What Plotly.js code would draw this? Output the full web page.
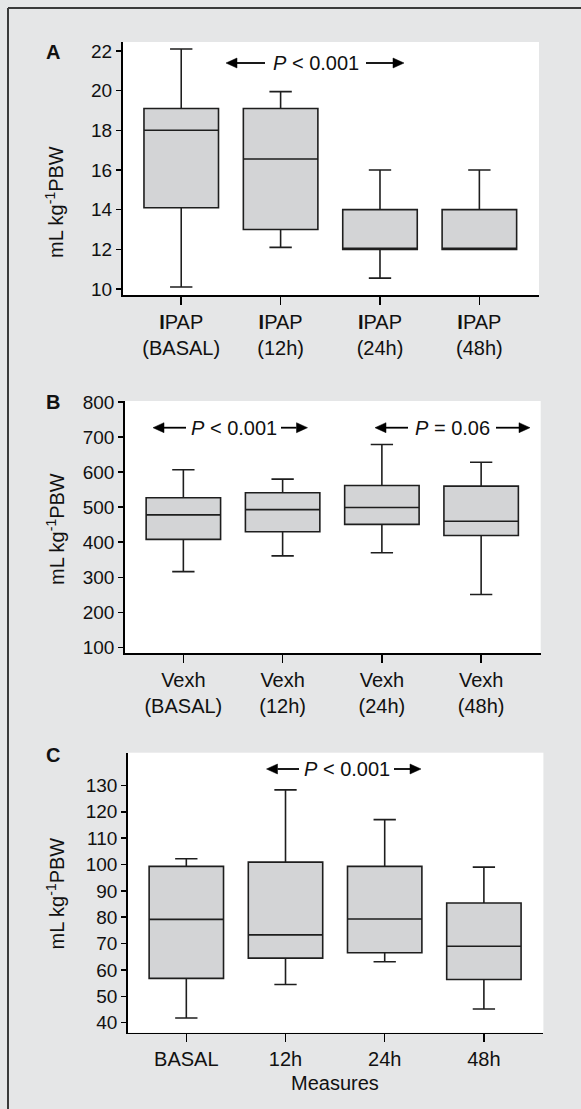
<!DOCTYPE html>
<html>
<head>
<meta charset="utf-8">
<script src="https://cdn.plot.ly/plotly-3.0.1.min.js"></script>
<style>
  html, body { margin: 0; padding: 0; background: #e5e6e7; }
  #chart { width: 581px; height: 1109px; }
</style>
</head>
<body>
<div id="chart"></div>
<script>
// ---------- data ----------
const categories = ['BASAL', '12h', '24h', '48h'];

// Panel A: IPAP (mL kg-1 PBW)
const ipapLabels = ['<b>I</b>PAP<br>(BASAL)', '<b>I</b>PAP<br>(12h)', '<b>I</b>PAP<br>(24h)', '<b>I</b>PAP<br>(48h)'];
const ipapLower  = [10.1, 12.1, 10.55, 12];
const ipapQ1     = [14.1, 13.0, 12, 12];
const ipapMedian = [18.0, 16.55, 12, 12];
const ipapQ3     = [19.1, 19.1, 14, 14];
const ipapUpper  = [22.1, 19.95, 16, 16];
const ipapTicks  = [10, 12, 14, 16, 18, 20, 22];

// Panel B: Vexh
const vexhLabels = ['Vexh<br>(BASAL)', 'Vexh<br>(12h)', 'Vexh<br>(24h)', 'Vexh<br>(48h)'];
const vexhLower  = [316, 361, 370, 251];
const vexhQ1     = [408, 430, 451, 419];
const vexhMedian = [478, 493, 499, 460];
const vexhQ3     = [527, 541, 562, 560];
const vexhUpper  = [607, 580, 679, 628];
const vexhTicks  = [100, 200, 300, 400, 500, 600, 700, 800];

// Panel C
const measLabels = ['BASAL', '12h', '24h', '48h'];
const measLower  = [41.8, 54.5, 63.1, 45.2];
const measQ1     = [56.8, 64.5, 66.5, 56.4];
const measMedian = [79.2, 73.3, 79.3, 69.0];
const measQ3     = [99.3, 100.9, 99.3, 85.4];
const measUpper  = [102.2, 128.3, 117.0, 99.0];
const measTicks  = [40, 50, 60, 70, 80, 90, 100, 110, 120, 130];

const yTitle = 'mL kg<sup>-1</sup>PBW';

// ---------- style ----------
const FONT = 'Liberation Sans, Arial, Helvetica, sans-serif';
const W = 581, H = 1109;
const py = v => (H - v) / H;
const px = v => v / W;

const boxStyle = {
  type: 'box',
  fillcolor: '#d3d4d6',
  line: { color: '#1e1e1e', width: 1.6 },
  whiskerwidth: 0.3,
  width: 0.75,
  boxpoints: false,
  hoverinfo: 'skip',
  showlegend: false
};

function boxTrace(q1, med, q3, lo, hi, xa, ya) {
  return Object.assign({}, boxStyle, {
    x: categories, q1: q1, median: med, q3: q3,
    lowerfence: lo, upperfence: hi,
    xaxis: xa, yaxis: ya
  });
}

const data = [
  boxTrace(ipapQ1, ipapMedian, ipapQ3, ipapLower, ipapUpper, 'x', 'y'),
  boxTrace(vexhQ1, vexhMedian, vexhQ3, vexhLower, vexhUpper, 'x2', 'y2'),
  boxTrace(measQ1, measMedian, measQ3, measLower, measUpper, 'x3', 'y3')
];

function xAxis(domain, labels, anchor) {
  return {
    domain: domain, anchor: anchor, type: 'category',
    range: [-0.59, 3.6],
    tickvals: categories, ticktext: labels,
    showline: true, linecolor: '#000', linewidth: 1.6,
    ticks: 'outside', ticklen: 8, tickwidth: 1.5, tickcolor: '#000',
    tickfont: { family: FONT, size: 20, color: '#111' },
    showgrid: false, zeroline: false, fixedrange: true
  };
}
function yAxis(domain, range, ticks, anchor) {
  return {
    domain: domain, anchor: anchor, range: range,
    tickvals: ticks,
    showline: true, linecolor: '#000', linewidth: 1.6,
    ticks: 'outside', ticklen: 5, tickwidth: 1.5, tickcolor: '#000',
    tickfont: { family: FONT, size: 19, color: '#111' },
    showgrid: false, zeroline: false, fixedrange: true
  };
}

const textFont = { family: FONT, size: 20, color: '#111' };
function label(txt, x, y) {
  return { xref: 'paper', yref: 'paper', x: x, y: y, text: txt,
    showarrow: false, xanchor: 'center', yanchor: 'middle',
    font: { family: FONT, size: 20, color: '#111', weight: 'bold' } };
}
function ytitle(y) {
  return { xref: 'paper', yref: 'paper', x: px(55), y: y, text: yTitle, textangle: -90,
    showarrow: false, xanchor: 'center', yanchor: 'middle', font: textFont };
}
function ptext(txt, x, y) {
  return { xref: 'paper', yref: 'paper', x: x, y: y, text: txt,
    showarrow: false, xanchor: 'center', yanchor: 'middle', font: textFont };
}

// arrow decoration: line from tail to tip plus filled triangular head (pixel positions)
function arrowShapes(tail, tip, yPix) {
  const dir = tip > tail ? 1 : -1;
  const headLen = 11, halfH = 5;
  const base = tip - dir * headLen;
  return [
    { type: 'line', xref: 'paper', yref: 'paper',
      x0: px(tail), x1: px(base), y0: py(yPix), y1: py(yPix),
      line: { color: '#000', width: 1.8 } },
    { type: 'path', xref: 'paper', yref: 'paper',
      path: 'M ' + px(tip) + ' ' + py(yPix) +
            ' L ' + px(base) + ' ' + py(yPix - halfH) +
            ' L ' + px(base) + ' ' + py(yPix + halfH) + ' Z',
      fillcolor: '#000', line: { color: '#000', width: 0.5 } }
  ];
}

const shapes = [
  { type: 'line', xref: 'paper', yref: 'paper', x0: px(8), x1: 1, y0: py(8), y1: py(8),
    line: { color: '#3a3a3a', width: 2 } },
  { type: 'line', xref: 'paper', yref: 'paper', x0: px(8), x1: px(8), y0: 0, y1: py(8),
    line: { color: '#3a3a3a', width: 2 } }
].concat(
  arrowShapes(265, 226, 63), arrowShapes(366, 404, 63),
  arrowShapes(186, 153, 427.7), arrowShapes(281, 307.5, 427.7),
  arrowShapes(408, 375, 427.7), arrowShapes(496, 530, 427.7),
  arrowShapes(299, 266.5, 769), arrowShapes(394, 421, 769)
);

const layout = {
  width: W, height: H,
  margin: { l: 0, r: 0, t: 0, b: 0 },
  paper_bgcolor: '#e5e6e7',
  plot_bgcolor: '#ffffff',
  font: { family: FONT, color: '#111' },
  showlegend: false,
  xaxis:  xAxis([px(122.6), px(539)], ipapLabels, 'y'),
  yaxis:  yAxis([py(295), py(42)], [9.7, 22.45], ipapTicks, 'x'),
  xaxis2: xAxis([px(124.8), px(540.7)], vexhLabels, 'y2'),
  yaxis2: yAxis([py(653.3), py(401)], [83, 803], vexhTicks, 'x2'),
  xaxis3: xAxis([px(127.8), px(543.4)], measLabels, 'y3'),
  yaxis3: yAxis([py(1032.7), py(752.7)], [36.2, 142.4], measTicks, 'x3'),
  shapes: shapes,
  annotations: [
    label('A', px(52.5), py(52)),
    label('B', px(52.5), py(402)),
    label('C', px(52.5), py(755)),
    ytitle(py(202)),
    ytitle(py(529)),
    ytitle(py(893.5)),
    { xref: 'paper', yref: 'paper', x: px(335), y: py(1083), text: 'Measures',
      showarrow: false, xanchor: 'center', yanchor: 'middle', font: textFont },
    ptext('<i>P</i> &lt; 0.001', px(316), py(63)),
    ptext('<i>P</i> &lt; 0.001', px(234), py(427.7)),
    ptext('<i>P</i> = 0.06', px(452), py(427.7)),
    ptext('<i>P</i> &lt; 0.001', px(347), py(769))
  ]
};

Plotly.newPlot('chart', data, layout, { displayModeBar: false, staticPlot: true });
</script>
</body>
</html>
